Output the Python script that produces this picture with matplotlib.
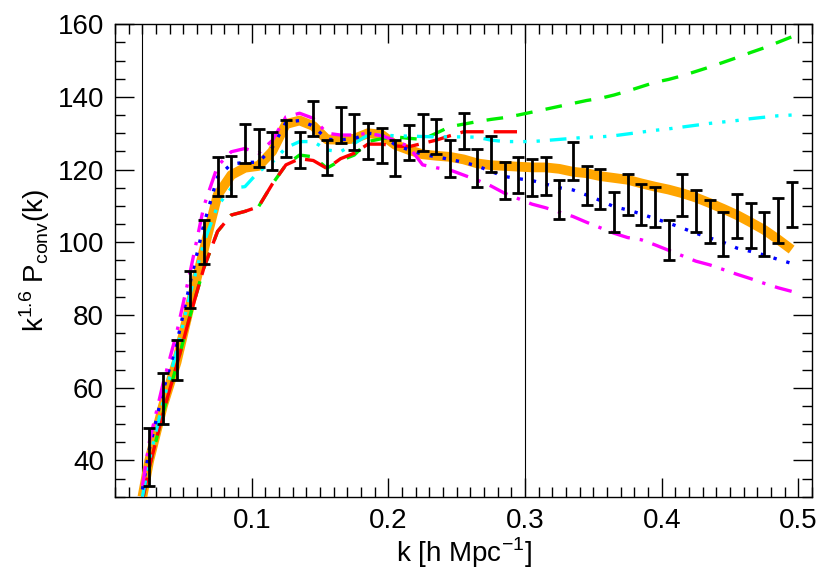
import numpy as np
import matplotlib
matplotlib.use("Agg")
import matplotlib.pyplot as plt
from matplotlib.ticker import MultipleLocator

plt.rcParams["font.family"] = "Liberation Sans"
plt.rcParams["mathtext.fontset"] = "custom"
plt.rcParams["mathtext.rm"] = "Liberation Sans"

# model curves share this k grid
k = [0.02, 0.025, 0.035, 0.045, 0.055, 0.065, 0.075, 0.085, 0.095, 0.105, 0.115,
     0.125, 0.135, 0.145, 0.155, 0.165, 0.175, 0.185, 0.195, 0.205, 0.215,
     0.225, 0.235, 0.245, 0.255, 0.265, 0.275, 0.285, 0.295, 0.305, 0.315,
     0.325, 0.335, 0.345, 0.355, 0.365, 0.375, 0.385, 0.395, 0.405, 0.415,
     0.425, 0.435, 0.445, 0.455, 0.465, 0.475, 0.485, 0.495]

orange = [30, 40, 55, 67, 83, 98, 113, 118.5, 120.5, 121, 125, 132.5, 133.5, 132, 128.3,
          128.2, 128.5, 130, 129.6, 126.8, 125.4, 124.2, 123.8, 123.5, 122.8, 121.7, 121.2,
          121, 120.8, 120.6, 120.6, 120.2, 119.4, 119, 118.2, 117.7, 117.2, 116.2, 115.3,
          114.5, 113.5, 112.3, 110.8, 109.2, 107.5, 105.5, 103.4, 100.8, 98]
magenta = [33, 45, 61, 75, 92, 110, 121, 124.9, 125.8, 124.5, 128, 134.5, 135.5, 134.1, 130,
           129.5, 129.5, 130, 129.3, 128, 126.3, 121.3, 120.5, 119.9, 118.5, 117.1, 115.5,
           113.5, 112, 110.5, 109.5, 108.3, 107.1, 105.5, 104, 102.5, 101.3, 100.7, 99.3,
           97.8, 96.3, 94.8, 93.8, 92.5, 91.2, 90, 88.7, 87.5, 86.5]
blue = [32, 43, 59, 72, 89, 105, 118, 121.5, 122, 122, 126, 133, 133.5, 132, 128.3,
        128.2, 128.5, 130, 129.6, 126.8, 125.4, 124.2, 123.5, 122.8, 122, 121, 119.5,
        118.1, 117.5, 117, 116, 115, 114.4, 113, 111.5, 109.8, 108.9, 107.8, 106.5,
        105.3, 103.9, 102.5, 101.2, 100, 98.4, 97.5, 96.5, 95.3, 94.2]
cyan = [30, 40, 56, 70, 86, 100, 110, 114.9, 115.3, 119.4, 122, 126, 127.7, 127.7, 125.4,
        124.9, 127.2, 129.5, 129.5, 129.3, 129.2, 129.1, 129, 129, 129, 128.9, 128.1,
        127.7, 127.7, 127.7, 128, 128.3, 128.6, 128.9, 129, 129.3, 129.8, 130.3, 130.8,
        131.2, 131.7, 132.2, 132.7, 133.1, 133.5, 134, 134.4, 134.8, 135]
green = [29, 38, 53, 66, 80, 93, 103, 107.5, 108.5, 109.8, 116, 121.3, 124, 123.5, 120.4,
         122.5, 124, 127.7, 128.5, 129, 128.6, 128.3, 130, 131.8, 132.5, 133.2, 133.8,
         134.3, 135, 135.8, 136.6, 137.4, 138.2, 139, 139.6, 140.5, 141.6, 142.8, 144,
         144.8, 145.8, 147, 148.2, 149.5, 150.8, 152.2, 153.5, 155, 156.5]
red_k = [0.02, 0.025, 0.035, 0.045, 0.055, 0.065, 0.075, 0.085, 0.095, 0.105, 0.115,
         0.125, 0.135, 0.145, 0.155, 0.165, 0.175, 0.185, 0.195, 0.205, 0.215, 0.225,
         0.235, 0.245, 0.255, 0.265, 0.275, 0.285, 0.295]
red = [29, 38, 53, 66, 80, 93, 103, 107.5, 108.5, 109.8, 116, 121.3, 123, 122.5, 120.3,
       123, 124.5, 127, 127, 126.5, 126.3, 127.2, 128.1, 129.3, 130.4, 130.4, 130.4,
       130.4, 130.4]

# data points with error bars
k_data = [0.025, 0.035, 0.045, 0.055, 0.065, 0.075, 0.085, 0.095, 0.105, 0.115, 0.125,
          0.135, 0.145, 0.155, 0.165, 0.175, 0.185, 0.195, 0.205, 0.215, 0.225, 0.235,
          0.245, 0.255, 0.265, 0.275, 0.285, 0.295, 0.305, 0.315, 0.325, 0.335, 0.345,
          0.355, 0.365, 0.375, 0.385, 0.395, 0.405, 0.415, 0.425, 0.435, 0.445, 0.455,
          0.465, 0.475, 0.485, 0.495]
err_hi = [49, 64, 73, 92, 106, 123.5, 123.7, 132.5, 131.1, 130.2, 133.6, 130.2, 138.9, 128.1,
          137.1, 135.2, 132.9, 131.3, 128.1, 132.3, 135.2, 133.8, 128.1, 135.5, 125.6,
          129.2, 122.1, 123.5, 122.8, 123.5, 117.0, 127.7, 121.0, 120.1, 113.7, 118.8,
          116.0, 115.3, 106.2, 118.8, 114.4, 111.6, 108.2, 113.3, 110.7, 108.3, 112.1, 116.7]
err_lo = [33, 50, 62, 82, 94, 112.6, 112.6, 121.9, 120.6, 119.9, 123.4, 120.3, 129.2, 118.5,
          127.4, 125.4, 123.0, 121.9, 118.2, 122.6, 125.2, 124.3, 117.9, 125.6, 115.3,
          119.2, 111.8, 113.5, 112.6, 113.0, 106.4, 117.0, 110.3, 109.1, 102.8, 107.5,
          104.8, 104.1, 95.0, 107.3, 102.8, 99.9, 96.3, 101.1, 98.5, 96.1, 99.9, 104.3]

x_ticks = [0.1, 0.2, 0.3, 0.4, 0.5]
y_ticks = [40, 60, 80, 100, 120, 140, 160]
k_lines = [0.02, 0.3]

fig = plt.figure(figsize=(8.22, 5.75), dpi=100)
ax = fig.add_axes([0.140, 0.136, 0.848, 0.822])

for kv in k_lines:
    ax.axvline(kv, color="black", lw=0.8)

ax.plot(k, orange, color="orange", lw=7, solid_capstyle="butt", zorder=3)
ax.plot(k, green, color="#00ee00", lw=2.4, dashes=(5, 4), zorder=4)
ax.plot(red_k, red, color="red", lw=2.4, dashes=(7, 3), zorder=4)
ax.plot(k, cyan, color="cyan", lw=2.4, dashes=(5, 3, 1, 3, 1, 3, 1, 3), zorder=4)
ax.plot(k, blue, color="blue", lw=2.4, dashes=(1, 3), zorder=4)
ax.plot(k, magenta, color="magenta", lw=2.4, dashes=(6, 3, 1, 3), zorder=4)

kd = np.array(k_data)
hi = np.array(err_hi)
lo = np.array(err_lo)
mid = (hi + lo) / 2
ax.errorbar(kd, mid, yerr=(hi - lo) / 2, fmt="none", ecolor="black", elinewidth=2,
            capsize=4, capthick=2, zorder=5)

ax.set_xlim(0, 0.51)
ax.set_ylim(30, 160)
ax.set_xticks(x_ticks)
ax.set_xticklabels([str(t) for t in x_ticks])
ax.set_yticks(y_ticks)
ax.xaxis.set_minor_locator(MultipleLocator(0.01))
ax.yaxis.set_minor_locator(MultipleLocator(5))
ax.tick_params(which="both", direction="in", top=True, right=True, labelsize=20, pad=8)
ax.tick_params(which="major", length=14, width=1)
ax.tick_params(which="minor", length=7, width=1)
for s in ax.spines.values():
    s.set_linewidth(1)

ax.set_xlabel(r"k [h Mpc$^{-1}$]", fontsize=20, labelpad=1)
ax.set_ylabel(r"k$^{1.6}$ P$_{\rm conv}$(k)", fontsize=20, labelpad=4)

fig.savefig("out.png", dpi=100)
